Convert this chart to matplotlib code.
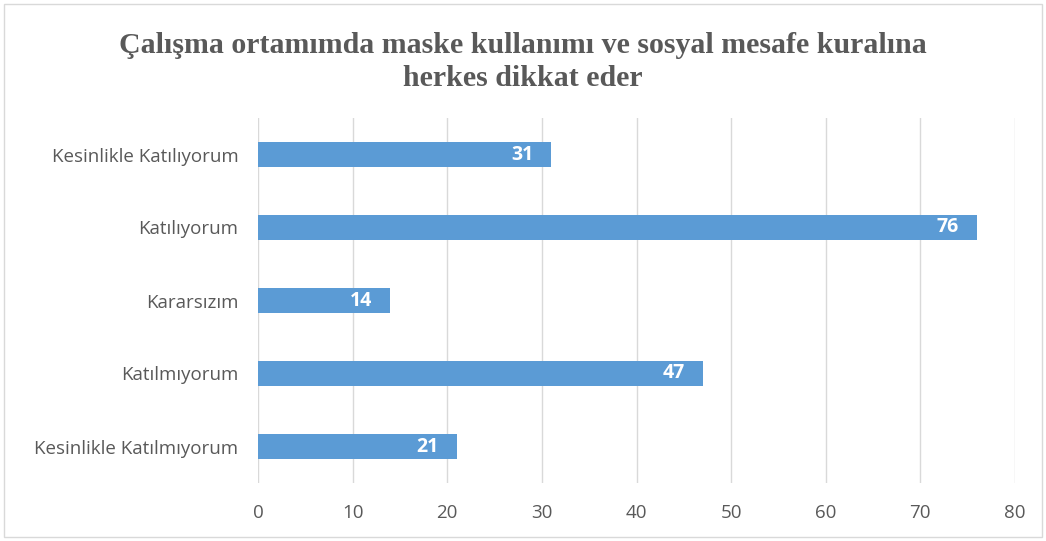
import matplotlib.pyplot as plt
from matplotlib.patches import Rectangle

categories = ['Kesinlikle Katılıyorum', 'Katılıyorum', 'Kararsızım',
              'Katılmıyorum', 'Kesinlikle Katılmıyorum']
values = [31, 76, 14, 47, 21]
x_ticks = [0, 10, 20, 30, 40, 50, 60, 70, 80]
title = 'Çalışma ortamımda maske kullanımı ve sosyal mesafe kuralına\nherkes dikkat eder'

bar_color = '#5B9BD5'
text_color = '#595959'
grid_color = '#D9D9D9'

fig = plt.figure(figsize=(10.46, 5.41), dpi=100)
W, H = 1046, 541
# plot area in pixels: x 258..1015, y 118..483
ax = fig.add_axes([258 / W, 1 - 483 / H, (1015 - 258) / W, (483 - 118) / H])

pos = list(range(len(categories)))[::-1]
ax.barh(pos, values, height=0.33, color=bar_color, zorder=3)
for p, v in zip(pos, values):
    ax.text(v - 1.9, p, str(v), ha='right', va='center', color='white',
            fontsize=14, fontweight='bold', family='Open Sans', zorder=4)

ax.set_xlim(0, 80)
ax.set_ylim(-0.5, 4.5)
ax.set_xticks(x_ticks)
ax.set_xticklabels([str(t) for t in x_ticks], fontsize=13.5, color=text_color, family='Open Sans')
ax.set_yticks(pos)
ax.set_yticklabels(categories, fontsize=13.5, color=text_color, family='Open Sans')
ax.tick_params(axis='both', length=0)
ax.tick_params(axis='y', pad=14)
ax.tick_params(axis='x', pad=15)
ax.grid(axis='x', color=grid_color, linewidth=1, zorder=0)
for s in ax.spines.values():
    s.set_visible(False)

fig.text(0.5, 1 - 62 / H, title, ha='center', va='center', fontsize=21.5,
         fontweight='bold', color=text_color, family='Liberation Serif',
         linespacing=1.3)

fig.patches.append(Rectangle((4 / W, 4 / H), 1 - 8 / W, 1 - 8 / H,
                             transform=fig.transFigure, fill=False,
                             edgecolor='#D9D9D9', linewidth=1))

fig.savefig('out.png', dpi=100)
